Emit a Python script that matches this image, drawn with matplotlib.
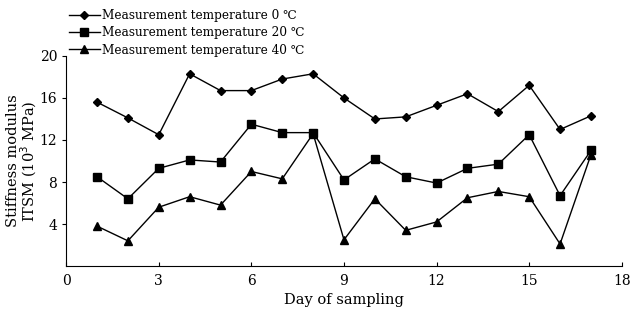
import matplotlib.pyplot as plt

plt.rcParams['font.family'] = ['DejaVu Serif', 'DejaVu Sans']

days = list(range(1, 18))

# stiffness modulus ITSM (10^3 MPa)
t0 = [15.6, 14.1, 12.5, 18.3, 16.7, 16.7, 17.8, 18.3, 16.0, 14.0, 14.2, 15.3,
      16.4, 14.7, 17.2, 13.0, 14.3]
t20 = [8.5, 6.4, 9.3, 10.1, 9.9, 13.5, 12.7, 12.7, 8.2, 10.2, 8.5, 7.9,
       9.3, 9.7, 12.5, 6.7, 11.0]
t40 = [3.8, 2.4, 5.6, 6.6, 5.8, 9.0, 8.3, 12.6, 2.5, 6.4, 3.4, 4.2,
       6.5, 7.1, 6.6, 2.1, 10.6]

labels = ['Measurement temperature 0 \u2103',
          'Measurement temperature 20 \u2103',
          'Measurement temperature 40 \u2103']

fig = plt.figure(figsize=(6.3, 3.09), dpi=100)
ax = fig.add_axes([0.105, 0.139, 0.882, 0.68])

ax.plot(days, t0, color='black', lw=1, marker='D', ms=4, label=labels[0])
ax.plot(days, t20, color='black', lw=1, marker='s', ms=6, label=labels[1])
ax.plot(days, t40, color='black', lw=1, marker='^', ms=6, label=labels[2])

ax.set_xlim(0, 18)
ax.set_ylim(0, 20)
ax.set_xticks([0, 3, 6, 9, 12, 15, 18])
ax.set_yticks([4, 8, 12, 16, 20])
ax.spines['top'].set_visible(False)
ax.spines['right'].set_visible(False)
ax.tick_params(axis='x', direction='in', length=3, labelsize=10, pad=6)
ax.tick_params(axis='y', direction='out', length=3, labelsize=10)

ax.set_xlabel('Day of sampling', fontsize=10.5, labelpad=3)
ax.set_ylabel('Stiffness modulus\nITSM (10$^3$ MPa)', fontsize=10.5,
              linespacing=0.95, labelpad=0)

fig.legend(loc='upper left', bbox_to_anchor=(0.11, 0.97), frameon=False,
           fontsize=8.7, handlelength=2.5, handletextpad=0.2,
           labelspacing=0.35, borderaxespad=0, borderpad=0)

fig.savefig('out.png', dpi=100)
